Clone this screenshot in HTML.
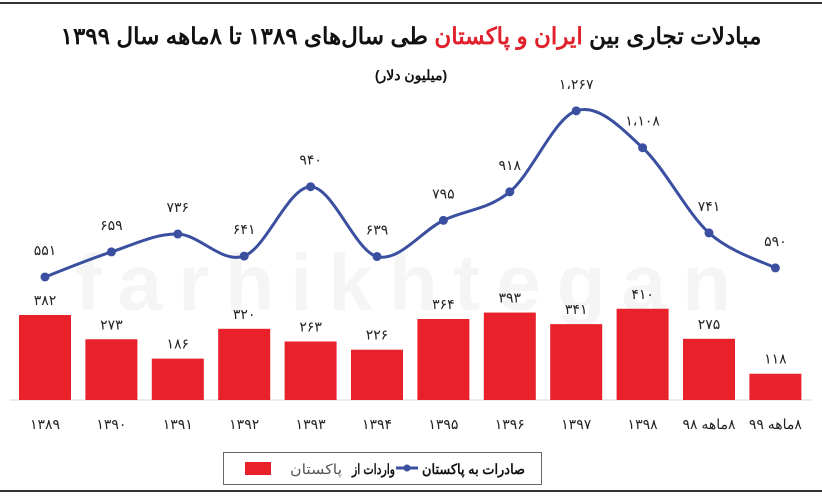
<!DOCTYPE html>
<html><head><meta charset="utf-8">
<style>
body{margin:0;background:#fff;}
svg{display:block;font-family:"Liberation Sans","Noto Sans CJK SC",sans-serif;}
</style></head>
<body>
<svg id="s" width="822" height="497" viewBox="0 0 822 497" xmlns="http://www.w3.org/2000/svg">
<rect width="822" height="497" fill="#fff"/>
<line x1="0" y1="3" x2="822" y2="3" stroke="#333" stroke-width="2"/>
<line x1="0" y1="491" x2="822" y2="491" stroke="#333" stroke-width="2"/>
<text x="411" y="44" text-anchor="middle" font-size="23" font-weight="bold" direction="rtl" fill="#111">مبادلات تجاری بین <tspan fill="#e0202a">ایران و پاکستان</tspan> طی سال‌های ۱۳۸۹ تا ۸ماهه سال ۱۳۹۹</text>
<text x="411" y="80" text-anchor="middle" font-size="14" font-weight="bold" fill="#111">(میلیون دلار)</text>
<text x="411" y="310" text-anchor="middle" font-size="80" font-weight="bold" fill="#000" opacity="0.035" letter-spacing="16">farhikhtegan</text>
<line x1="10" y1="400" x2="812" y2="400" stroke="#d9d9d9" stroke-width="1"/>
<g id="bars" fill="#e8212b"></g>
<g id="bl" font-size="14" fill="#222" text-anchor="middle"></g>
<path id="ln" fill="none" stroke="#3a4fa0" stroke-width="3"/>
<g id="dots" fill="#3a4fa0"></g>
<g id="ll" font-size="14" fill="#222" text-anchor="middle"></g>
<g id="xl" font-size="14" fill="#222" text-anchor="middle"></g>
<rect x="223.5" y="452.5" width="318" height="32" fill="#fff" stroke="#666"/>
<rect x="245" y="462" width="26" height="13" fill="#e8212b"/>
<text x="290" y="474" font-size="14" fill="#555" textLength="52" lengthAdjust="spacingAndGlyphs">پاکستان</text>
<text x="352" y="474" font-size="14" font-weight="bold" fill="#111" textLength="43" lengthAdjust="spacingAndGlyphs">واردات از</text>
<line x1="396" y1="468" x2="418" y2="468" stroke="#3a4fa0" stroke-width="3"/>
<circle cx="407" cy="468" r="3.5" fill="#3a4fa0"/>
<text x="422" y="474" font-size="14" font-weight="bold" fill="#111" textLength="103" lengthAdjust="spacingAndGlyphs">صادرات به پاکستان</text>
</svg>
<script>
var ns="http://www.w3.org/2000/svg";
var bars=[382,273,186,320,263,226,364,393,341,410,275,118];
var line=[551,659,736,641,940,639,795,918,1267,1108,741,590];
var ll=["۵۵۱","۶۵۹","۷۳۶","۶۴۱","۹۴۰","۶۳۹","۷۹۵","۹۱۸","۱،۲۶۷","۱،۱۰۸","۷۴۱","۵۹۰"];
var xl=["۱۳۸۹","۱۳۹۰","۱۳۹۱","۱۳۹۲","۱۳۹۳","۱۳۹۴","۱۳۹۵","۱۳۹۶","۱۳۹۷","۱۳۹۸","۸ماهه ۹۸","۸ماهه ۹۹"];
function fa(n){return String(n).replace(/\d/g,function(d){return "۰۱۲۳۴۵۶۷۸۹"[d];});}
function el(t,a,p,txt){var e=document.createElementNS(ns,t);for(var k in a)e.setAttribute(k,a[k]);if(txt)e.textContent=txt;document.getElementById(p).appendChild(e);}
var pts=[];
for(var i=0;i<12;i++){
 var x=45+i*66.4;
 var h=bars[i]*0.2225;
 el("rect",{x:x-26,y:400-h,width:52,height:h},"bars");
 el("text",{x:x,y:400-h-10},"bl",fa(bars[i]));
 var y=404.8-line[i]*0.232;
 pts.push([x,y]);
 el("circle",{cx:x,cy:y,r:4.5},"dots");
 el("text",{x:x,y:y-22},"ll",ll[i]);
 var a={x:x,y:429}; if(i>=10)a.direction="rtl";
 el("text",a,"xl",xl[i]);
}
var d="M"+pts[0][0]+","+pts[0][1];
for(var i=0;i<pts.length-1;i++){
 var p0=pts[Math.max(0,i-1)],p1=pts[i],p2=pts[i+1],p3=pts[Math.min(pts.length-1,i+2)];
 var c1x=p1[0]+(p2[0]-p0[0])/6,c1y=p1[1]+(p2[1]-p0[1])/6;
 var c2x=p2[0]-(p3[0]-p1[0])/6,c2y=p2[1]-(p3[1]-p1[1])/6;
 d+=" C"+c1x+","+c1y+" "+c2x+","+c2y+" "+p2[0]+","+p2[1];
}
document.getElementById("ln").setAttribute("d",d);
</script>
</body></html>
